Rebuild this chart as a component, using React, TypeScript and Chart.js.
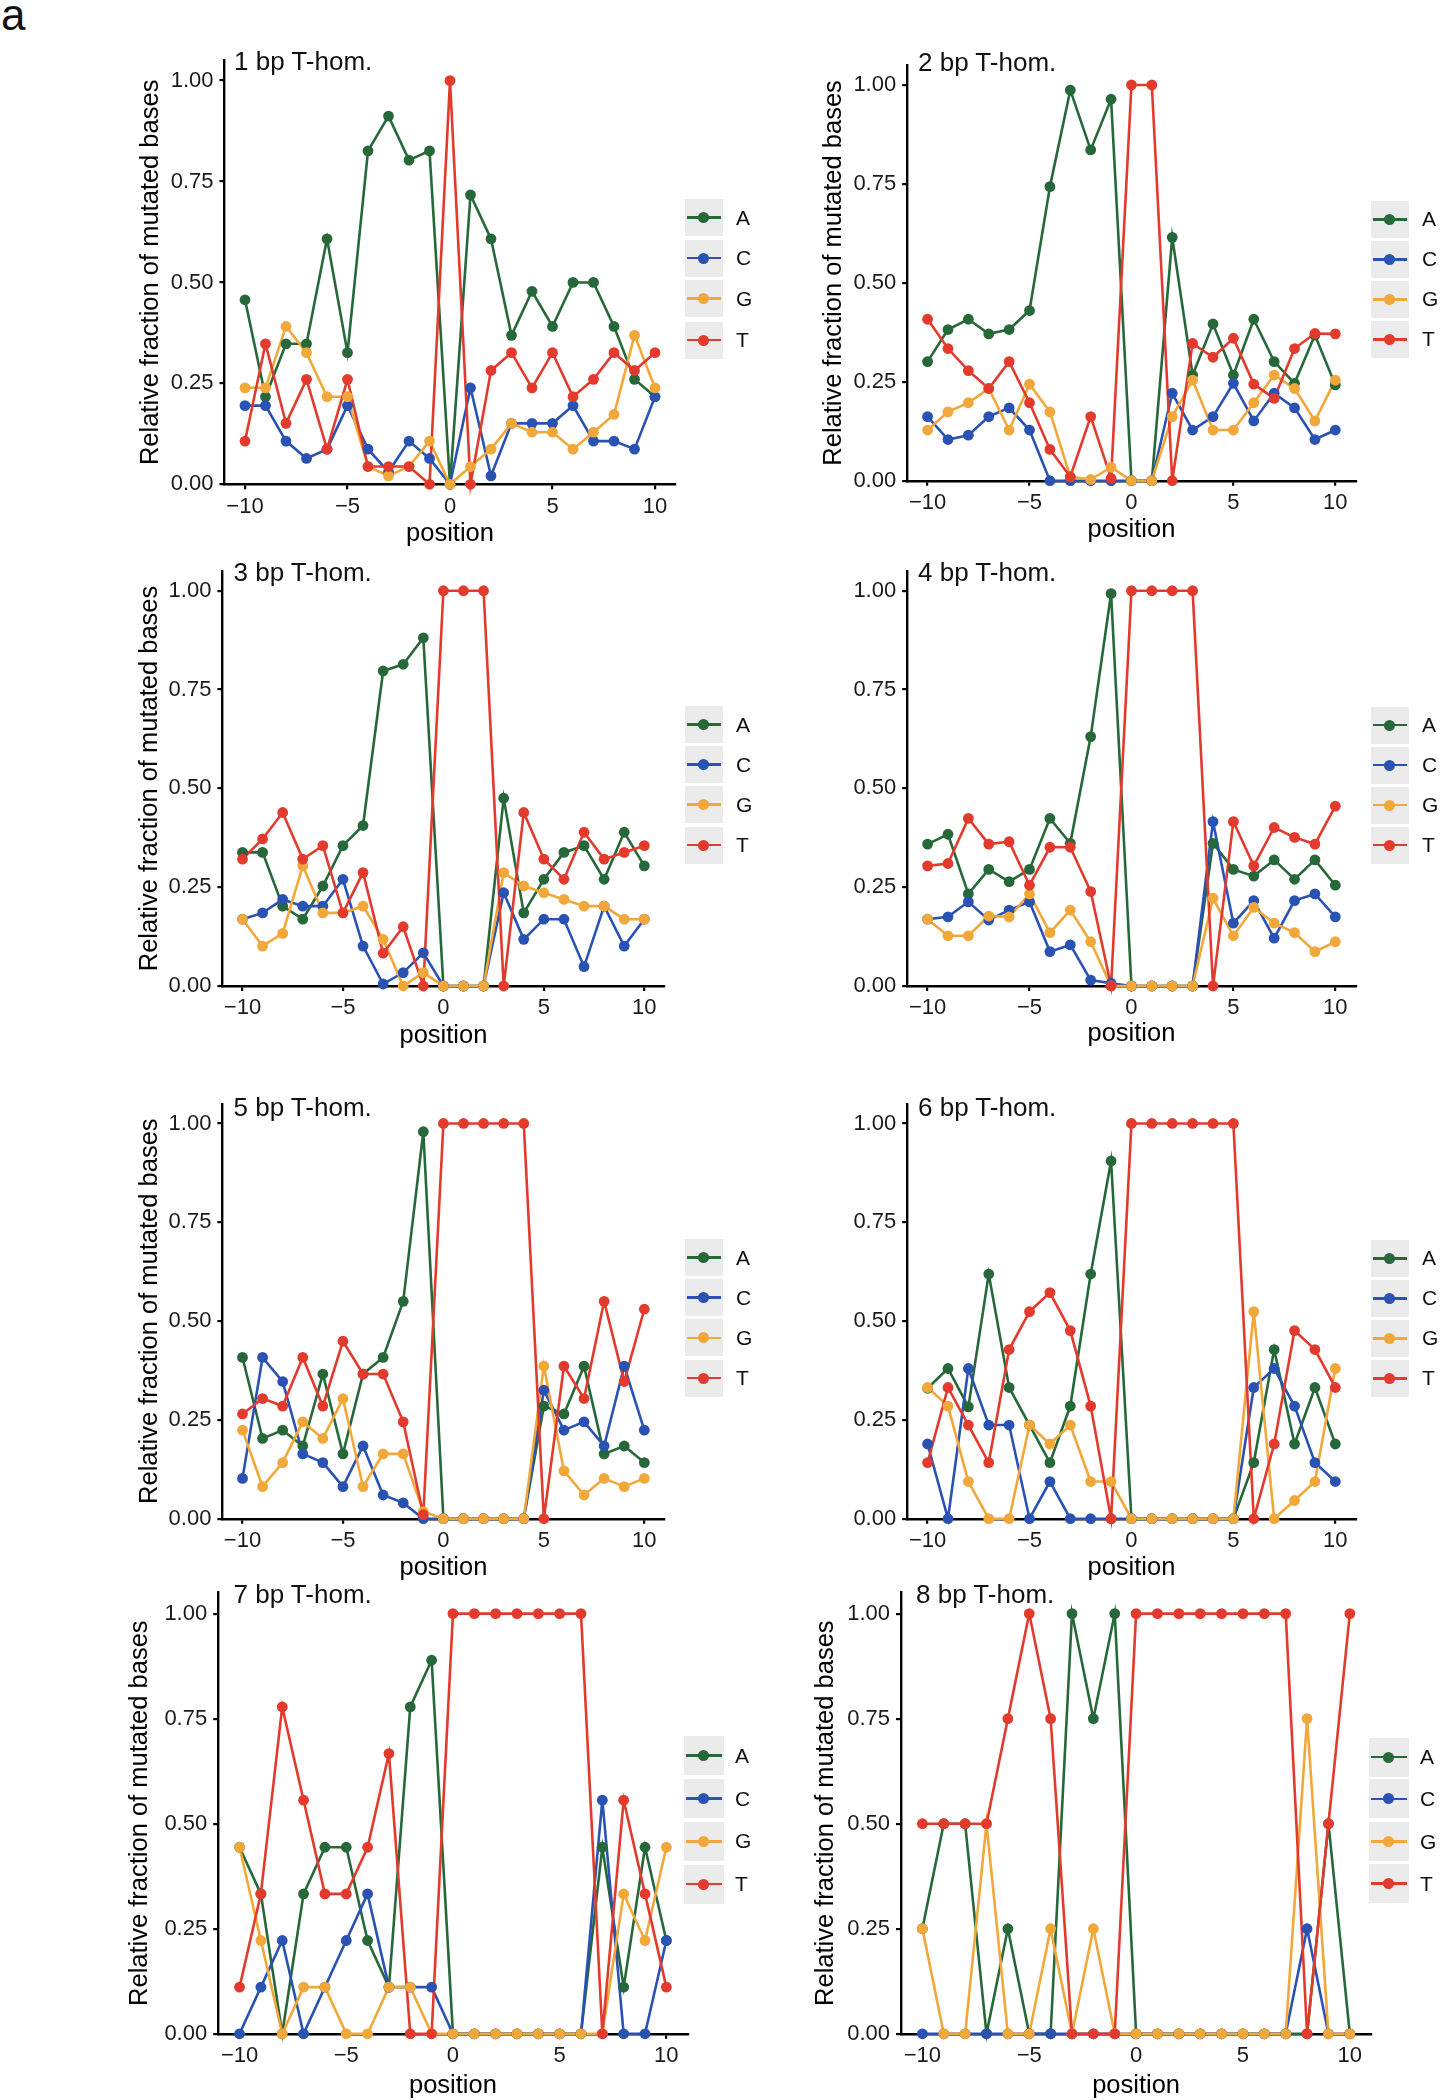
import React, { useEffect, useRef } from "react";
import { Chart, registerables } from "chart.js";

Chart.register(...registerables);

const FONT = '"Liberation Sans", Arial, Helvetica, sans-serif';

// ---------- data ----------
const positions = [-10, -9, -8, -7, -6, -5, -4, -3, -2, -1, 0, 1, 2, 3, 4, 5, 6, 7, 8, 9, 10];
const bases = ["A", "C", "G", "T"];
const baseColors = ["#27683a", "#2a52b2", "#f2a73b", "#e23b2e"];
const xTickValues = [-10, -5, 0, 5, 10];
const yTickValues = [0, 0.25, 0.5, 0.75, 1];
const panelTitles = ["1 bp T-hom.", "2 bp T-hom.", "3 bp T-hom.", "4 bp T-hom.", "5 bp T-hom.", "6 bp T-hom.", "7 bp T-hom.", "8 bp T-hom."];
const yAxisTitle = "Relative fraction of mutated bases";
const xAxisTitle = "position";

const p1A = [0.457, 0.217, 0.348, 0.348, 0.608, 0.326, 0.826, 0.912, 0.803, 0.826, 0, 0.717, 0.608, 0.369, 0.478, 0.391, 0.5, 0.5, 0.391, 0.26, 0.217];
const p1C = [0.195, 0.195, 0.107, 0.064, 0.087, 0.195, 0.087, 0.031, 0.107, 0.064, 0, 0.239, 0.021, 0.151, 0.151, 0.151, 0.195, 0.107, 0.107, 0.087, 0.217];
const p1G = [0.239, 0.239, 0.391, 0.326, 0.217, 0.217, 0.044, 0.021, 0.044, 0.107, 0, 0.044, 0.087, 0.151, 0.129, 0.129, 0.087, 0.129, 0.173, 0.369, 0.239];
const p1T = [0.107, 0.348, 0.151, 0.26, 0.087, 0.26, 0.044, 0.044, 0.044, 0, 1, 0, 0.282, 0.326, 0.239, 0.326, 0.217, 0.26, 0.326, 0.282, 0.326];

const p2A = [0.301, 0.382, 0.408, 0.371, 0.382, 0.43, 0.743, 0.987, 0.836, 0.964, 0, 0, 0.615, 0.267, 0.396, 0.267, 0.408, 0.301, 0.246, 0.368, 0.242];
const p2C = [0.162, 0.104, 0.115, 0.162, 0.184, 0.128, 0, 0, 0, 0, 0, 0, 0.221, 0.128, 0.162, 0.246, 0.151, 0.221, 0.184, 0.104, 0.128];
const p2G = [0.128, 0.174, 0.197, 0.233, 0.128, 0.244, 0.174, 0.01, 0.003, 0.034, 0, 0, 0.162, 0.254, 0.128, 0.128, 0.197, 0.267, 0.233, 0.151, 0.254];
const p2T = [0.408, 0.334, 0.278, 0.233, 0.301, 0.197, 0.079, 0.01, 0.162, 0.006, 1, 1, 0, 0.347, 0.312, 0.36, 0.244, 0.208, 0.334, 0.372, 0.371];

const p3A = [0.338, 0.338, 0.202, 0.169, 0.253, 0.355, 0.406, 0.797, 0.814, 0.881, 0, 0, 0, 0.475, 0.185, 0.27, 0.338, 0.355, 0.27, 0.389, 0.304];
const p3C = [0.169, 0.185, 0.219, 0.202, 0.202, 0.27, 0.101, 0.005, 0.034, 0.084, 0, 0, 0, 0.236, 0.118, 0.169, 0.169, 0.049, 0.202, 0.101, 0.169];
const p3G = [0.169, 0.101, 0.133, 0.304, 0.185, 0.185, 0.202, 0.118, 0, 0.034, 0, 0, 0, 0.287, 0.253, 0.236, 0.219, 0.202, 0.202, 0.169, 0.169];
const p3T = [0.321, 0.372, 0.439, 0.321, 0.355, 0.185, 0.287, 0.083, 0.15, 0, 1, 1, 1, 0, 0.439, 0.321, 0.27, 0.389, 0.321, 0.338, 0.355];

const p4A = [0.359, 0.384, 0.233, 0.295, 0.264, 0.295, 0.424, 0.361, 0.631, 0.993, 0, 0, 0, 0, 0.361, 0.295, 0.278, 0.319, 0.27, 0.319, 0.255];
const p4C = [0.169, 0.175, 0.213, 0.167, 0.192, 0.213, 0.087, 0.104, 0.015, 0.007, 0, 0, 0, 0, 0.416, 0.159, 0.216, 0.121, 0.216, 0.233, 0.175];
const p4G = [0.169, 0.127, 0.127, 0.177, 0.175, 0.233, 0.135, 0.192, 0.112, 0, 0, 0, 0, 0, 0.222, 0.127, 0.199, 0.159, 0.135, 0.087, 0.112];
const p4T = [0.304, 0.31, 0.424, 0.359, 0.365, 0.255, 0.351, 0.351, 0.239, 0, 1, 1, 1, 1, 0, 0.416, 0.304, 0.401, 0.376, 0.359, 0.455];

const p5A = [0.408, 0.203, 0.224, 0.184, 0.366, 0.164, 0.366, 0.408, 0.55, 0.979, 0, 0, 0, 0, 0, 0.285, 0.265, 0.386, 0.164, 0.184, 0.142];
const p5C = [0.102, 0.408, 0.347, 0.164, 0.142, 0.081, 0.184, 0.06, 0.04, 0, 0, 0, 0, 0, 0, 0.325, 0.224, 0.245, 0.184, 0.386, 0.224];
const p5G = [0.224, 0.081, 0.142, 0.245, 0.203, 0.304, 0.081, 0.164, 0.164, 0.018, 0, 0, 0, 0, 0, 0.386, 0.121, 0.06, 0.102, 0.081, 0.102];
const p5T = [0.265, 0.304, 0.285, 0.408, 0.285, 0.449, 0.366, 0.366, 0.245, 0.01, 1, 1, 1, 1, 1, 0, 0.386, 0.304, 0.55, 0.347, 0.53];

const p6A = [0.33, 0.38, 0.283, 0.619, 0.332, 0.237, 0.142, 0.285, 0.619, 0.905, 0, 0, 0, 0, 0, 0, 0.142, 0.428, 0.189, 0.332, 0.189];
const p6C = [0.189, 0, 0.38, 0.237, 0.237, 0, 0.094, 0, 0, 0, 0, 0, 0, 0, 0, 0, 0.332, 0.38, 0.285, 0.142, 0.094];
const p6G = [0.332, 0.285, 0.094, 0, 0, 0.237, 0.189, 0.237, 0.094, 0.094, 0, 0, 0, 0, 0, 0, 0.524, 0, 0.046, 0.094, 0.38];
const p6T = [0.142, 0.332, 0.237, 0.142, 0.428, 0.524, 0.572, 0.476, 0.285, 0, 1, 1, 1, 1, 1, 1, 0, 0.189, 0.476, 0.428, 0.332];

const p7A = [0.444, 0.333, 0, 0.333, 0.444, 0.444, 0.222, 0.111, 0.778, 0.889, 0, 0, 0, 0, 0, 0, 0, 0.444, 0.111, 0.444, 0.222];
const p7C = [0, 0.111, 0.222, 0, 0.111, 0.222, 0.333, 0.111, 0.111, 0.111, 0, 0, 0, 0, 0, 0, 0, 0.556, 0, 0, 0.222];
const p7G = [0.444, 0.222, 0, 0.111, 0.111, 0, 0, 0.111, 0.111, 0, 0, 0, 0, 0, 0, 0, 0, 0, 0.333, 0.222, 0.444];
const p7T = [0.111, 0.333, 0.778, 0.556, 0.333, 0.333, 0.444, 0.667, 0, 0, 1, 1, 1, 1, 1, 1, 1, 0, 0.556, 0.333, 0.111];

const p8A = [0.25, 0.5, 0.5, 0, 0.25, 0, 0, 1, 0.75, 1, 0, 0, 0, 0, 0, 0, 0, 0, 0, 0.5, 0];
const p8C = [0, 0, 0, 0, 0, 0, 0, 0, 0, 0, 0, 0, 0, 0, 0, 0, 0, 0, 0.25, 0, 0];
const p8G = [0.25, 0, 0, 0.5, 0, 0, 0.25, 0, 0.25, 0, 0, 0, 0, 0, 0, 0, 0, 0, 0.75, 0, 0];
const p8T = [0.5, 0.5, 0.5, 0.5, 0.75, 1, 0.75, 0, 0, 0, 1, 1, 1, 1, 1, 1, 1, 1, 0, 0.5, 1];

const panelSeries = [
  [p1A, p1C, p1G, p1T],
  [p2A, p2C, p2G, p2T],
  [p3A, p3C, p3G, p3T],
  [p4A, p4C, p4G, p4T],
  [p5A, p5C, p5G, p5T],
  [p6A, p6C, p6G, p6T],
  [p7A, p7C, p7G, p7T],
  [p8A, p8C, p8G, p8T],
];

// ---------- layout (page px) ----------
type Geom = {
  L: number; R: number; T: number; B: number;
  yTitleX: number; showYTitle: boolean; posY: number;
  legendX: number; rows: number[]; box: number;
  titleX: number; titleBase: number;
};

const geoms: Geom[] = [
  { L: 224.5, R: 675.5, T: 60.4, B: 484.3, yTitleX: 151.4, showYTitle: true, posY: 533, legendX: 685, rows: [217.5, 258, 298.7, 340], box: 37, titleX: 234, titleBase: 70.5 },
  { L: 907.2, R: 1355.7, T: 65.2, B: 480.7, yTitleX: 834.5, showYTitle: true, posY: 529.3, legendX: 1371, rows: [219.3, 259.3, 299.3, 339.3], box: 37, titleX: 918, titleBase: 71 },
  { L: 222.4, R: 664.4, T: 571, B: 986, yTitleX: 150.7, showYTitle: true, posY: 1035, legendX: 685, rows: [724.5, 764.7, 804.8, 845], box: 37, titleX: 233.5, titleBase: 581 },
  { L: 907.2, R: 1355.7, T: 571, B: 986, yTitleX: 834.5, showYTitle: false, posY: 1033, legendX: 1371, rows: [725, 765, 805, 845], box: 37, titleX: 918, titleBase: 581 },
  { L: 222.4, R: 664.4, T: 1103.7, B: 1518.7, yTitleX: 150.7, showYTitle: true, posY: 1567, legendX: 685, rows: [1257.5, 1297.7, 1337.9, 1378], box: 37, titleX: 233.5, titleBase: 1116 },
  { L: 907.2, R: 1355.7, T: 1103.7, B: 1518.7, yTitleX: 834.5, showYTitle: false, posY: 1567, legendX: 1371, rows: [1258.3, 1298.3, 1338.3, 1378.3], box: 37, titleX: 918, titleBase: 1116 },
  { L: 218.2, R: 687.7, T: 1592.6, B: 2033.8, yTitleX: 140.3, showYTitle: true, posY: 2085.6, legendX: 684, rows: [1755.7, 1798.5, 1841.4, 1884.2], box: 39, titleX: 233.5, titleBase: 1603 },
  { L: 901, R: 1371.2, T: 1592.6, B: 2033.8, yTitleX: 826.5, showYTitle: true, posY: 2085, legendX: 1369, rows: [1757, 1798.9, 1841.5, 1883.7], box: 39, titleX: 916, titleBase: 1603 },
];

const TICK_FONT = 22;
const AXIS_TITLE_FONT = 25.5;
const TITLE_LH = AXIS_TITLE_FONT * 1.2;

function Panel({ series, g }: { series: number[][]; g: Geom }) {
  const ref = useRef<HTMLCanvasElement | null>(null);
  const cx = Math.floor(g.showYTitle ? g.yTitleX - TITLE_LH / 2 : g.L - 100);
  const cy = Math.floor(g.T - 25);
  const W = Math.ceil(g.R + 22 - cx);
  const H = Math.ceil(g.posY + TITLE_LH / 2 - cy);

  useEffect(() => {
    if (!ref.current) return;
    const datasets: any[] = [];
    series.forEach((vals, i) => {
      datasets.push({
        label: bases[i],
        data: positions.map((p, j) => ({ x: p, y: vals[j] })),
        borderColor: baseColors[i],
        backgroundColor: baseColors[i],
        borderWidth: 2.6,
        pointRadius: 0,
        pointHoverRadius: 0,
        fill: false,
        tension: 0,
        clip: false,
        order: 8 - i,
      });
    });
    series.forEach((vals, i) => {
      datasets.push({
        label: bases[i] + "-points",
        data: positions.map((p, j) => ({ x: p, y: vals[j] })),
        showLine: false,
        pointRadius: 5.4,
        pointHoverRadius: 5.4,
        pointBackgroundColor: baseColors[i],
        pointBorderColor: baseColors[i],
        pointBorderWidth: 0,
        clip: false,
        order: 4 - i,
      });
    });

    const chart = new Chart(ref.current, {
      type: "line",
      data: { datasets },
      options: {
        animation: false,
        responsive: false,
        devicePixelRatio: 1,
        events: [],
        layout: { padding: { left: 0, top: g.T - cy, right: cx + W - g.R, bottom: 0 } },
        plugins: { legend: { display: false }, tooltip: { enabled: false }, title: { display: false } },
        scales: {
          x: {
            type: "linear",
            min: -11,
            max: 11,
            afterBuildTicks: (s: any) => { s.ticks = xTickValues.map((v) => ({ value: v })); },
            afterFit: (s: any) => { s.height = cy + H - g.B; },
            ticks: {
              font: { family: FONT, size: TICK_FONT },
              color: "#1a1a1a",
              padding: 4,
              maxRotation: 0,
              autoSkip: false,
              callback: (v: any) => (Number(v) < 0 ? "\u2212" + Math.abs(Number(v)) : String(v)),
            },
            grid: { display: true, drawOnChartArea: false, drawTicks: true, tickLength: 5, color: "#000", lineWidth: 2.2 },
            border: { display: true, color: "#000", width: 2.4 },
            title: { display: true, text: xAxisTitle, color: "#000", padding: 0, font: { family: FONT, size: AXIS_TITLE_FONT, lineHeight: 1.2 } },
          },
          y: {
            type: "linear",
            min: 0,
            max: 1.05,
            afterBuildTicks: (s: any) => { s.ticks = yTickValues.map((v) => ({ value: v })); },
            afterFit: (s: any) => { s.width = g.L - cx; },
            ticks: {
              font: { family: FONT, size: TICK_FONT },
              color: "#1a1a1a",
              padding: 6,
              autoSkip: false,
              callback: (v: any) => Number(v).toFixed(2),
            },
            grid: { display: true, drawOnChartArea: false, drawTicks: true, tickLength: 5, color: "#000", lineWidth: 2.2 },
            border: { display: true, color: "#000", width: 2.4 },
            title: { display: g.showYTitle, text: yAxisTitle, color: "#000", padding: 0, font: { family: FONT, size: AXIS_TITLE_FONT, lineHeight: 1.2 } },
          },
        },
      } as any,
    });
    return () => chart.destroy();
  }, []);

  return (
    <canvas
      ref={ref}
      width={W}
      height={H}
      style={{ position: "absolute", left: cx, top: cy, width: W, height: H }}
    />
  );
}

function Legend({ g }: { g: Geom }) {
  const bw = g.box + 0.7;
  const bh = g.box;
  return (
    <>
      {bases.map((b, i) => {
        const row = g.rows[i];
        return (
          <React.Fragment key={b}>
            <div style={{ position: "absolute", left: g.legendX, top: row - bh / 2, width: bw, height: bh, background: "#ebebeb" }}>
              <div style={{ position: "absolute", left: 2, width: bw - 4, top: bh / 2 - 1.3, height: 2.6, background: baseColors[i] }} />
              <div style={{ position: "absolute", left: bw / 2 - 5.5, top: bh / 2 - 5.5, width: 11, height: 11, borderRadius: "50%", background: baseColors[i] }} />
            </div>
            <div style={{ position: "absolute", left: g.legendX + 51, top: row - 12, height: 24, lineHeight: "24px", fontSize: 21, fontFamily: FONT, color: "#111" }}>
              {b}
            </div>
          </React.Fragment>
        );
      })}
    </>
  );
}

export default function App() {
  return (
    <div style={{ position: "absolute", left: 0, top: 0, width: 1441, height: 2100, background: "#fff", overflow: "hidden", fontFamily: FONT }}>
      <div style={{ position: "absolute", left: 1, top: 30 - 0.8465 * 44, fontSize: 44, lineHeight: "44px", color: "#111" }}>a</div>
      {geoms.map((g, k) => (
        <React.Fragment key={k}>
          <Panel series={panelSeries[k]} g={g} />
          <div style={{ position: "absolute", left: g.titleX, top: g.titleBase - 0.8465 * 26, fontSize: 26, lineHeight: "26px", whiteSpace: "nowrap", color: "#111" }}>
            {panelTitles[k]}
          </div>
          <Legend g={g} />
        </React.Fragment>
      ))}
    </div>
  );
}
